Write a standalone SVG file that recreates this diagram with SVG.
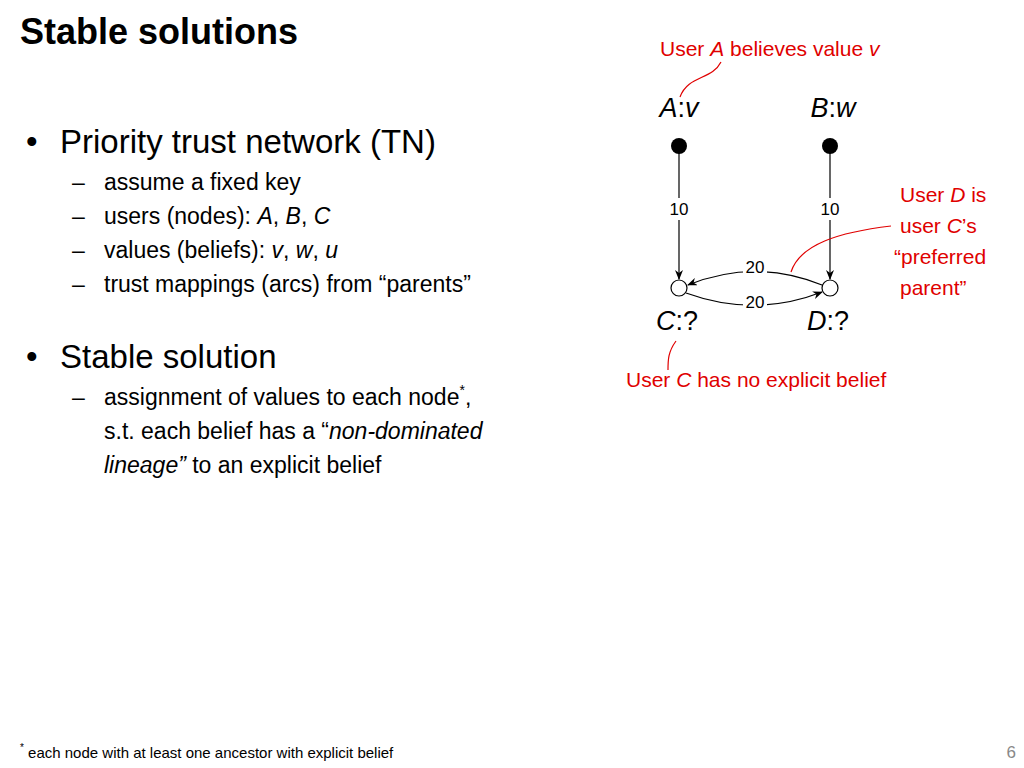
<svg xmlns="http://www.w3.org/2000/svg" width="1024" height="768" viewBox="0 0 1024 768">
<style>
text{font-family:"Liberation Sans",Arial,sans-serif;fill:#000}
.t{font-size:36px;font-weight:bold}
.b{font-size:33px}
.s{font-size:23px}
.r{fill:#e00000;font-size:21px}
.n{font-size:27px}
.w{font-size:17px}
.e{stroke:#000;stroke-width:1.2;fill:none;marker-end:url(#ar)}
.c{stroke:#e00000;stroke-width:1.2;fill:none}
</style>
<defs><marker id="ar" markerWidth="10" markerHeight="8" refX="9" refY="4" orient="auto" markerUnits="userSpaceOnUse"><path d="M0,0 L10,4 L0,8 L3,4z" fill="#000"/></marker></defs>
<rect width="1024" height="768" fill="#fff"/>
<text class="t" x="20" y="44">Stable solutions</text>
<text class="b" x="26" y="153">•</text>
<text class="b" x="60" y="153">Priority trust network (TN)</text>
<text class="s" x="72" y="190">–</text><text class="s" x="104" y="190">assume a fixed key</text>
<text class="s" x="72" y="224">–</text><text class="s" x="104" y="224">users (nodes): <tspan font-style="italic">A</tspan>, <tspan font-style="italic">B</tspan>, <tspan font-style="italic">C</tspan></text>
<text class="s" x="72" y="258">–</text><text class="s" x="104" y="258">values (beliefs): <tspan font-style="italic">v</tspan>, <tspan font-style="italic">w</tspan>, <tspan font-style="italic">u</tspan></text>
<text class="s" x="72" y="292">–</text><text class="s" x="104" y="292">trust mappings (arcs) from “parents”</text>
<text class="b" x="26" y="368">•</text>
<text class="b" x="60" y="368">Stable solution</text>
<text class="s" x="72" y="405">–</text><text class="s" x="104" y="405">assignment of values to each node<tspan font-size="14" dy="-10">*</tspan><tspan dy="10">,</tspan></text>
<text class="s" x="104" y="439">s.t. each belief has a “<tspan font-style="italic">non-dominated</tspan></text>
<text class="s" x="104" y="473"><tspan font-style="italic">lineage”</tspan> to an explicit belief</text>
<text x="20" y="758" font-size="15"><tspan font-size="10" dy="-7">*</tspan><tspan dy="7"> each node with at least one ancestor with explicit belief</tspan></text>
<text x="1016" y="758" font-size="17" text-anchor="end" style="fill:#888">6</text>
<g id="connectors">
<line class="e" x1="679" y1="146" x2="679" y2="279"/>
<line class="e" x1="830" y1="146" x2="830" y2="279"/>
<path class="e" d="M822,285 Q755,258 688,285"/>
<path class="e" d="M686,293 Q755,318 822,292"/>
<rect x="667" y="198" width="24" height="22" fill="#fff"/>
<rect x="818" y="198" width="24" height="22" fill="#fff"/>
<rect x="743" y="258" width="24" height="18" fill="#fff"/>
<rect x="743" y="293" width="24" height="18" fill="#fff"/>
<text class="w" x="679" y="215" text-anchor="middle">10</text>
<text class="w" x="830" y="215" text-anchor="middle">10</text>
<text class="w" x="755" y="273" text-anchor="middle">20</text>
<text class="w" x="755" y="308" text-anchor="middle">20</text>
</g>
<g id="A"><circle cx="679" cy="146" r="8"/><text class="n" x="679" y="117" text-anchor="middle" font-style="italic">A<tspan font-style="normal">:</tspan>v</text></g>
<g id="B"><circle cx="830" cy="146" r="8"/><text class="n" x="833" y="117" text-anchor="middle" font-style="italic">B<tspan font-style="normal">:</tspan>w</text></g>
<g id="C"><circle cx="679" cy="288" r="8" fill="#fff" stroke="#000" stroke-width="1.2"/><text class="n" x="677" y="330" text-anchor="middle"><tspan font-style="italic">C</tspan>:?</text></g>
<g id="D"><circle cx="830" cy="288" r="8" fill="#fff" stroke="#000" stroke-width="1.2"/><text class="n" x="828" y="330" text-anchor="middle"><tspan font-style="italic">D</tspan>:?</text></g>
<g id="callouts">
<text class="r" x="660" y="56" style="fill:#e00000">User <tspan font-style="italic">A</tspan> believes value <tspan font-style="italic">v</tspan></text>
<path class="c" d="M721,62 C712,80 688,75 680,97"/>
<text class="r" x="900" y="202" style="fill:#e00000">User <tspan font-style="italic">D</tspan> is</text>
<text class="r" x="900" y="233" style="fill:#e00000">user <tspan font-style="italic">C</tspan>’s</text>
<text class="r" x="894" y="264" style="fill:#e00000">“preferred</text>
<text class="r" x="900" y="295" style="fill:#e00000">parent”</text>
<path class="c" d="M891,226 C840,232 800,244 791,272"/>
<text class="r" x="626" y="387" style="fill:#e00000">User <tspan font-style="italic">C</tspan> has no explicit belief</text>
<path class="c" d="M676,341 C668,352 668,360 668,370"/>
</g>
</svg>
